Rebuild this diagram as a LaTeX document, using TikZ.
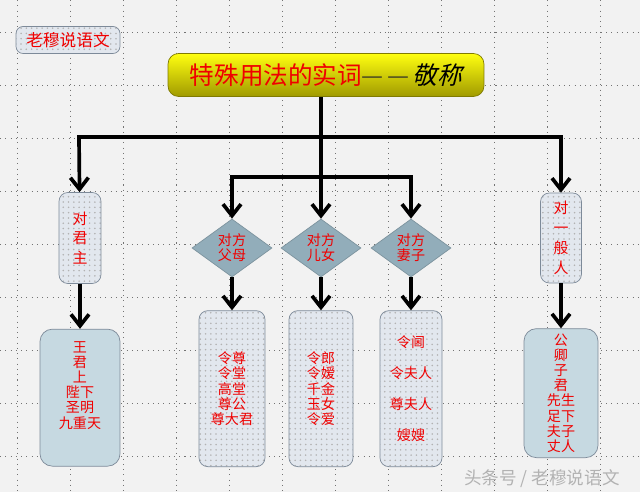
\documentclass[tikz,border=0pt]{standalone}
\usepackage{fontspec}
\setmainfont{Noto Sans CJK SC}
\newfontfamily\slantcjk[FakeSlant=0.25]{Noto Sans CJK SC}
\usetikzlibrary{arrows.meta,positioning,shapes.geometric,patterns}
\definecolor{pagebg}{HTML}{F2F2F2}
\definecolor{boxblue}{HTML}{C6D9E1}
\definecolor{dotfill}{HTML}{E2E7EE}
\definecolor{diafill}{HTML}{92ADBA}
\definecolor{edgegray}{HTML}{7D8A99}
\definecolor{titletop}{HTML}{FFFF10}
\definecolor{titlebot}{HTML}{A09A00}
\definecolor{txtred}{HTML}{F00000}
\definecolor{dashdark}{HTML}{4A4A20}

\begin{document}
\begin{tikzpicture}[
    x=0.02cm, y=-0.02cm,
    every node/.style={font=\fontsize{8pt}{8.6pt}\selectfont, text=txtred, align=center, inner sep=0pt},
    gridline/.style={black!55, line width=0.5pt, dash pattern=on 0.6pt off 2.4pt},
    dotbox/.style={draw=edgegray, rounded corners=5pt, preaction={fill=dotfill}, pattern=dots, pattern color=black!30},
    solidbox/.style={draw=edgegray, rounded corners=7pt, fill=boxblue},
    pick/.style={diamond, draw=diafill!85!black, fill=diafill, minimum width=1.6cm, minimum height=1.16cm},
    link/.style={line width=2.1pt},
    arrow/.style={-{Straight Barb[length=2.3mm,width=3.6mm]}, line width=2.1pt}
]
    % page and dotted grid
    \fill[pagebg] (0,0) rectangle (640,492);
    \useasboundingbox (0,0) rectangle (640,492);
    \foreach \gy in {32,85,...,457}
        \draw[gridline] (0,\gy) -- (640,\gy);
    \foreach \gx in {17,70,...,600}
        \draw[gridline] (\gx,0) -- (\gx,492);

    % heading
    \node[dotbox, rounded corners=4pt, minimum width=2.08cm, minimum height=0.54cm,
          font=\fontsize{9.5pt}{10pt}\selectfont] (brand) at (68,40) {老穆说语文};
    \node[draw=titlebot!80!black, rounded corners=6pt, top color=titletop, bottom color=titlebot,
          minimum width=6.32cm, minimum height=0.86cm, font=\fontsize{14pt}{15pt}\selectfont] (title) at (326,75)
          {特殊用法的实词{\color{dashdark}—\kern2pt—}\kern2pt{\color{black}\slantcjk 敬称}};

    % junctions
    \coordinate (jL) at (79,137);
    \coordinate (jM) at (321,137);
    \coordinate (jR) at (561,137);
    \coordinate (kL) at (232,177);
    \coordinate (kM) at (321,177);
    \coordinate (kR) at (411,177);

    % second level
    \node[dotbox, minimum width=0.84cm, minimum height=1.82cm, font=\fontsize{8.5pt}{11.3pt}\selectfont]
          (jun) at (80,238) {对\\君\\主};
    \node[dotbox, minimum width=0.82cm, minimum height=1.8cm, font=\fontsize{8.5pt}{11.3pt}\selectfont]
          (yiban) at (561,238) {对\\一\\般\\人};
    \node[pick] (fumu) at (232,248) {对方\\父母};
    \node[pick] (ernv) at (321,248) {对方\\儿女};
    \node[pick] (qizi) at (411,248) {对方\\妻子};

    % lists
    \node[solidbox, minimum width=1.6cm, minimum height=2.74cm, below=0.9cm of jun] (junlist)
          {王\\君\\上\\陛下\\圣明\\九重天\\[6pt]};
    \node[dotbox, minimum width=1.32cm, minimum height=3.12cm, below=0.66cm of fumu] (fumulist)
          {令尊\\令堂\\高堂\\尊公\\尊大君};
    \node[dotbox, minimum width=1.28cm, minimum height=3.12cm, below=0.66cm of ernv] (ernvlist)
          {令郎\\令嫒\\千金\\玉女\\令爱};
    \node[dotbox, minimum width=1.24cm, minimum height=3.12cm, below=0.66cm of qizi,
          font=\fontsize{8pt}{17.6pt}\selectfont] (qizilist)
          {令阃\\令夫人\\尊夫人\\嫂嫂};
    \node[solidbox, minimum width=1.48cm, minimum height=2.58cm, below=0.9cm of yiban] (yibanlist)
          {公\\卿\\子\\君\\先生\\足下\\夫子\\丈人};

    \node[text=black!30, font=\fontsize{10pt}{11pt}\selectfont] (mark) at (542,479) {头条号 / 老穆说语文};

    % connectors
    \draw[link] (title.south -| jM) -- (jM);
    \draw[link, line cap=rect] (jL) -- (jR);
    \draw[link] (jM) -- (kM);
    \draw[link, line cap=rect] (kL) -- (kR);
    \draw[arrow] (jL) -- (jun);
    \draw[arrow] (jR) -- (yiban);
    \draw[arrow] (kL) -- (fumu);
    \draw[arrow] (kM) -- (ernv);
    \draw[arrow] (kR) -- (qizi);
    \draw[arrow] (jun) -- (junlist);
    \draw[arrow] (yiban) -- (yibanlist);
    \draw[arrow] (fumu) -- (fumulist);
    \draw[arrow] (ernv) -- (ernvlist);
    \draw[arrow] (qizi) -- (qizilist);
\end{tikzpicture}
\end{document}
